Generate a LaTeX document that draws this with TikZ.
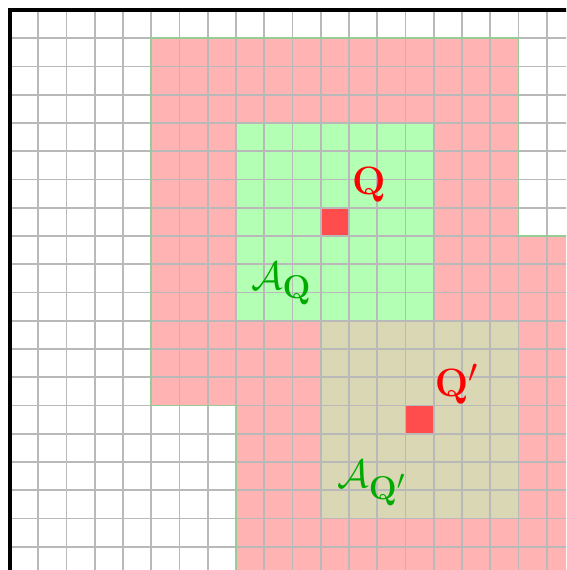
\documentclass[tikz,border=0pt]{standalone}
\usepackage{amsmath, amssymb}
\usepackage{xcolor}
\usepackage{tikz}
\usetikzlibrary{positioning}
\definecolor{zonepink}{RGB}{255,179,179}
\definecolor{zonegreen}{RGB}{179,255,179}
\definecolor{zoneolive}{RGB}{217,215,180}
\definecolor{cellred}{RGB}{255,77,77}
\definecolor{labelgreen}{RGB}{0,170,0}
\definecolor{edgegreen}{RGB}{150,205,150}
\definecolor{gridgray}{RGB}{185,185,185}

\begin{document}
\begin{tikzpicture}[x=1cm,y=-1cm,
  zone/.style={draw=none},
  edge/.style={draw=edgegreen, line width=1.8pt},
  cell/.style={fill=cellred},
  gridline/.style={draw=gridgray, line width=1.8pt},
  lab/.style={inner sep=0pt, font=\Huge, scale=1.6}]
  \useasboundingbox (-0.354,-0.354) rectangle (19.68,19.82);
  \clip (-0.354,-0.354) rectangle (19.68,19.82);

  % neighbourhoods of Q and Q'
  \fill[zone, zonepink] (5,1) rectangle (18,14);
  \fill[zone, zonepink] (8,8) rectangle (21,21);
  \fill[zone, zonegreen] (8,4) rectangle (15,11);
  \fill[zone, zoneolive] (11,11) rectangle (18,18);
  \fill[cell] (11,7) rectangle (12,8);
  \fill[cell] (14,14) rectangle (15,15);

  \draw[gridline] (0,0) grid (21,21);
  \draw[edge] (5,14) -- (5,1) -- (18,1) -- (18,8) -- (21,8);
  \draw[edge] (5,14) -- (8,14) -- (8,21);
  \draw[line width=3.5pt] (0,21) -- (0,0) -- (21,0);

  \node[lab, text=red] (q) at (12.7,6.2) {$\mathbf{Q}$};
  \node[lab, text=red] (qp) at (15.8,13.25) {$\mathbf{Q}'$};
  \node[lab, text=labelgreen] (aq) at (9.6,9.7) {$\mathcal{A}_{\mathbf{Q}}$};
  \node[lab, text=labelgreen] (aqp) at (12.8,16.75) {$\mathcal{A}_{\mathbf{Q}'}$};
\end{tikzpicture}
\end{document}
